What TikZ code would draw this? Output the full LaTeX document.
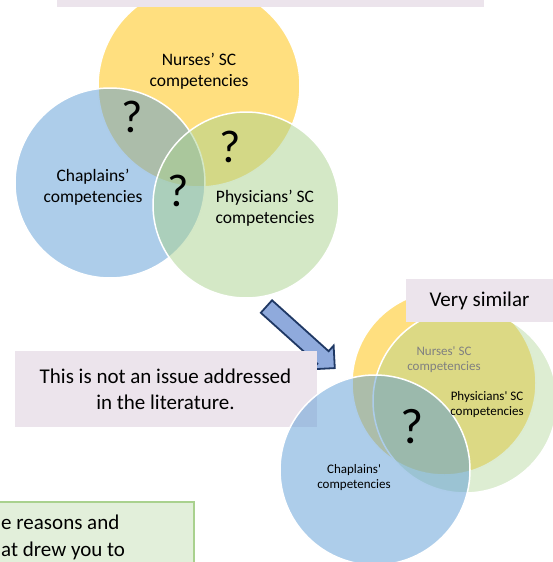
\documentclass[tikz,border=0pt]{standalone}
\usepackage{fontspec}
\setmainfont{Carlito}
\usetikzlibrary{shapes.arrows,positioning}
\definecolor{boxpink}{RGB}{236,228,236}
\definecolor{nurseyellow}{RGB}{255,192,0}
\definecolor{chapblue}{RGB}{91,155,213}
\definecolor{physgreen}{RGB}{169,209,142}
\definecolor{arrowfill}{RGB}{143,170,220}
\definecolor{arrowline}{RGB}{31,56,100}
\definecolor{notefill}{RGB}{226,239,218}
\definecolor{noteline}{RGB}{169,209,142}
\newcommand{\fsz}[2]{\fontsize{#1}{#2}\selectfont}
\begin{document}
\begin{tikzpicture}[x=1pt,y=-1pt,
  venn/.style={circle,draw=white,line width=1.5pt,fill opacity=0.5,inner sep=0pt},
  lbl/.style={align=center,font=\fsz{17.5}{21}},
  smalllbl/.style={align=center,font=\fsz{13}{15}},
  qmark/.style={inner sep=0pt,font=\fsz{46}{50}},
  note/.style={fill=boxpink,inner sep=0pt,align=center,font=\fsz{21}{26}}]
  \useasboundingbox (0,0) rectangle (553,562);
  % first diagram
  \node[venn,fill=nurseyellow,minimum size=202pt] (nurses) at (199,86) {};
  \node[venn,fill=chapblue,minimum size=190pt] (chaplains) at (110,183) {};
  \node[venn,fill=physgreen,minimum size=186pt] (physicians) at (246,205) {};
  \node[lbl] (nurseslbl) at (199,71) {Nurses’ SC\\competencies};
  \node[lbl] (chaplainslbl) at (93,187) {Chaplains’\\competencies};
  \node[lbl] (physicianslbl) at (265,208) {Physicians’ SC\\competencies};
  \node[qmark] (qnc) at (132,117) {?};
  \node[qmark] (qnp) at (230,147) {?};
  \node[qmark] (qall) at (178,191) {?};
  \node[fill=boxpink,minimum width=427pt,minimum height=7pt,inner sep=0pt] (banner) at (270.5,3.5) {};
  % arrow
  \node[single arrow,draw=arrowline,fill=arrowfill,line width=1.8pt,minimum height=92pt,
    inner xsep=0pt,inner ysep=7.5pt,single arrow head extend=7.5pt,rotate=-42] (arrow) at (297.5,334.5) {};
  \node[note,minimum width=302pt,minimum height=76pt] (literature) at (165.5,389)
    {This is not an issue addressed\\in the literature.};
  % second diagram
  \node[venn,fill=nurseyellow,minimum size=184pt] (nurses2) at (444,383) {};
  \node[venn,fill=physgreen,fill opacity=0.4,minimum size=184pt] (physicians2) at (465,401) {};
  \node[note,minimum width=147pt,minimum height=43pt] (similar) at (479.5,300.5) {Very similar};
  \node[venn,fill=chapblue,minimum size=190pt] (chaplains2) at (375,470) {};
  \node[smalllbl,text=gray] (nurseslbl2) at (444,360) {Nurses\textquotesingle{} SC\\competencies};
  \node[smalllbl] (physicianslbl2) at (487,405) {Physicians\textquotesingle{} SC\\competencies};
  \node[smalllbl] (chaplainslbl2) at (354,478) {Chaplains\textquotesingle{}\\competencies};
  \node[qmark,font=\fsz{50}{54}] (qall2) at (412,427) {?};
  % bottom note
  \node[draw=noteline,fill=notefill,line width=1.5pt,minimum width=195pt,minimum height=66pt,
    inner sep=0pt,anchor=north west] (reasons) at (-2,501) {};
  \node[anchor=north west,align=left,inner sep=0pt,font=\fsz{21}{27}] (reasonstext) at (1,515)
    {e reasons and\\at drew you to};
\end{tikzpicture}
\end{document}
